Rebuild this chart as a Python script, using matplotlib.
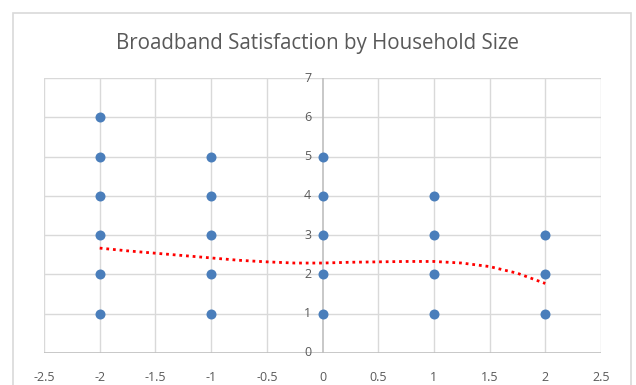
import matplotlib
matplotlib.use("Agg")
import matplotlib.pyplot as plt
from matplotlib.patches import Rectangle

# household size (centred) vs satisfaction score
household = [-2, -2, -2, -2, -2, -2,
             -1, -1, -1, -1, -1,
             0, 0, 0, 0, 0,
             1, 1, 1, 1,
             2, 2, 2]
satisfaction = [1, 2, 3, 4, 5, 6,
                1, 2, 3, 4, 5,
                1, 2, 3, 4, 5,
                1, 2, 3, 4,
                1, 2, 3]

# trendline readings
trend_x = [-2, -1.75, -1.5, -1.25, -1, -0.75, -0.5, -0.25, 0, 0.25, 0.5,
           0.75, 1, 1.25, 1.5, 1.75, 2]
trend_y = [2.67, 2.60, 2.54, 2.48, 2.42, 2.36, 2.32, 2.29, 2.29, 2.31, 2.32,
           2.33, 2.33, 2.29, 2.20, 2.03, 1.77]

xticks = [-2.5, -2, -1.5, -1, -0.5, 0, 0.5, 1, 1.5, 2, 2.5]
yticks = [0, 1, 2, 3, 4, 5, 6, 7]

plt.rcParams['font.family'] = ['Open Sans', 'DejaVu Sans']

fig = plt.figure(figsize=(6.36, 3.85), dpi=100)
# outer chart border (runs off the bottom edge)
fig.patches.append(Rectangle((13 / 636, -0.05), 618 / 636, 1 - 13 / 385 + 0.05,
                             transform=fig.transFigure, fill=False,
                             edgecolor='#d9d9d9', linewidth=1.2))

ax = fig.add_axes([44 / 636, 32 / 385, 557 / 636, 275 / 385])
ax.set_xlim(-2.5, 2.5)
ax.set_ylim(0, 7)

grid_c = '#d9d9d9'
for v in xticks:
    if v != 0:
        ax.axvline(v, color=grid_c, linewidth=1, zorder=0)
for v in yticks[1:]:
    ax.axhline(v, color=grid_c, linewidth=1, zorder=0)
ax.axvline(0, color='#bfbfbf', linewidth=1.2, zorder=1)
ax.axhline(0, color='#bfbfbf', linewidth=1.2, zorder=1)
for s in ax.spines.values():
    s.set_visible(False)

ax.scatter(household, satisfaction, s=52, color='#4a7ebb', zorder=3,
           linewidths=0)
ax.plot(trend_x, trend_y, color='#ff0000', linewidth=2,
        linestyle=(0, (1, 1.4)), zorder=4)

ax.set_xticks(xticks)
ax.set_xticklabels([f'{v:g}' for v in xticks])
ax.set_yticks([])
ax.tick_params(axis='x', length=0, pad=13, labelsize=9, labelcolor='#595959')
# y labels sit beside the vertical axis at x = 0
for v in yticks:
    ax.text(-0.1, v, str(v), ha='right', va='center', fontsize=9,
            color='#595959', zorder=2)

fig.text(0.5, 1 - 43 / 385, 'Broadband Satisfaction by Household Size',
         ha='center', va='center', fontsize=14.8, color='#595959')

fig.savefig('out.png', dpi=100, facecolor='white')
